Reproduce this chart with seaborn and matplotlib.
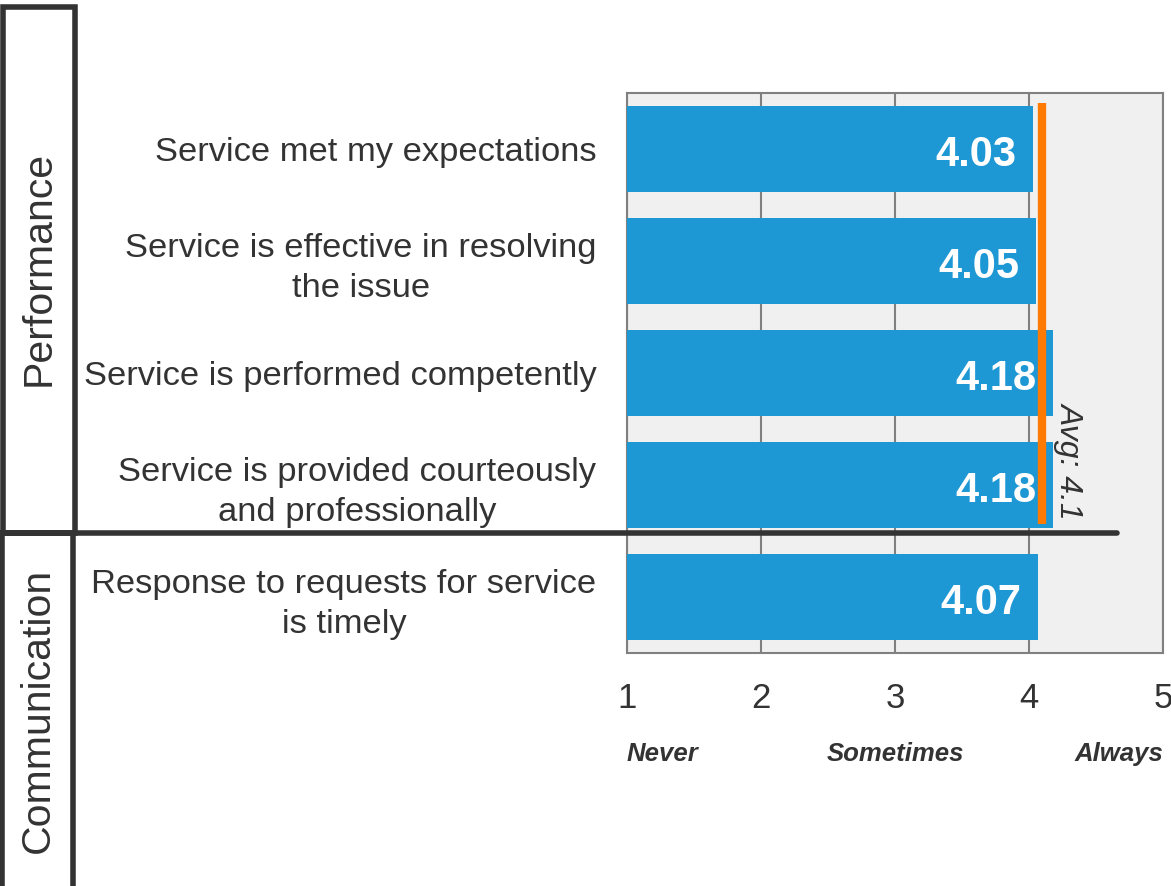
import matplotlib
matplotlib.use("Agg")
import matplotlib.pyplot as plt
from matplotlib.patches import Rectangle
from matplotlib.lines import Line2D
import seaborn as sns
import pandas as pd

# Survey items (top to bottom) and their mean scores
items = [
    "Service met my expectations",
    "Service is effective in resolving\nthe issue",
    "Service is performed competently",
    "Service is provided courteously\nand professionally",
    "Response to requests for service\nis timely",
]
scores = [4.03, 4.05, 4.18, 4.18, 4.07]
groups = ["Performance", "Performance", "Performance", "Performance", "Communication"]
score_labels = ["4.03", "4.05", "4.18", "4.18", "4.07"]

x_ticks = [1, 2, 3, 4, 5]
scale_names = ["Never", "Sometimes", "Always"]
scale_pos = [1, 3, 5]

avg_value = 4.1
avg_label = "Avg: 4.1"

BLUE = "#1d98d5"
ORANGE = "#ff7a00"
DARK = "#333333"
GRAY = "#808080"

sns.set_style("white")
plt.rcParams["font.family"] = ["Liberation Sans", "DejaVu Sans"]

W, H = 1171, 886
fig = plt.figure(figsize=(W / 100, H / 100), dpi=100)


def fx(px):
    return px / W


def fy(py):
    return 1 - py / H


ax = fig.add_axes([fx(627), fy(653), fx(1163) - fx(627), fy(93) - fy(653)])
ax.set_facecolor("#f0f0f0")

df = pd.DataFrame({"item": items, "score": scores, "group": groups})
sns.barplot(data=df, x="score", y="item", color=BLUE, width=0.76,
            saturation=1, linewidth=0, edgecolor=BLUE, ax=ax, zorder=3)

ax.set_xlim(1, 5)
ax.set_ylim(4.5, -0.5)
ax.set_xlabel("")
ax.set_ylabel("")

# x axis: numbers and scale wording
ax.set_xticks(x_ticks)
ax.set_xticklabels([str(t) for t in x_ticks], fontsize=25, color=DARK)
ax.tick_params(axis="x", length=9, width=1.5, color=GRAY, pad=12, direction="out")
ax.grid(axis="x", color=GRAY, linewidth=1.5, zorder=0)
ax.set_axisbelow(True)

for name, pos in zip(scale_names, scale_pos):
    ha = "left" if pos == x_ticks[0] else ("right" if pos == x_ticks[-1] else "center")
    ax.annotate(name, xy=(pos, 0), xycoords=("data", "axes fraction"),
                xytext=(0, -73), textcoords="offset points", ha=ha, va="center",
                fontsize=18.5, fontweight="bold", fontstyle="italic", color=DARK)

# y axis: labels centred on bars, tick marks between bars
ax.set_yticks(range(len(items)))
ax.set_yticklabels(items, fontsize=24.8, color=DARK, multialignment="center",
                   linespacing=1.35)
ax.tick_params(axis="y", which="major", length=0, pad=22)
ax.set_yticks([i - 0.5 for i in range(len(items) + 1)], minor=True)
ax.tick_params(axis="y", which="minor", length=7, width=1.5, color=GRAY, direction="out")

for side in ["left", "right", "top", "bottom"]:
    ax.spines[side].set_visible(True)
    ax.spines[side].set_color(GRAY)
    ax.spines[side].set_linewidth(1.5)

# score labels inside the bar ends
for i, (v, lab) in enumerate(zip(scores, score_labels)):
    ax.annotate(lab, xy=(v, i), xytext=(-12, -4), textcoords="offset points",
                ha="right", va="center", fontsize=30, fontweight="bold",
                color="white", zorder=5)

# average line for the performance items
perf_idx = [i for i, g in enumerate(groups) if g == "Performance"]
ax.plot([avg_value, avg_value], [perf_idx[0] - 0.41, perf_idx[-1] + 0.35],
        color=ORANGE, linewidth=6, solid_capstyle="butt", zorder=6)
ax.text(avg_value + 0.2, 2.78, avg_label, rotation=-90, ha="center", va="center",
        fontsize=23, fontstyle="italic", color=DARK, zorder=6)

# group boxes on the left and the divider between groups
lw = 4
fig.add_artist(Rectangle((fx(3), fy(533)), fx(75) - fx(3), fy(7) - fy(533),
                         transform=fig.transFigure, fill=False, edgecolor=DARK,
                         linewidth=lw, clip_on=False))
fig.add_artist(Rectangle((fx(2), fy(889)), fx(73) - fx(2), fy(533) - fy(889),
                         transform=fig.transFigure, fill=False, edgecolor=DARK,
                         linewidth=lw, clip_on=False))
fig.add_artist(Line2D([fx(0), fx(1117)], [fy(533), fy(533)], transform=fig.transFigure,
                      color=DARK, linewidth=lw, zorder=10))

fig.text(fx(39), fy(268), "Performance", rotation=90, ha="center", va="center",
         fontsize=29.5, color=DARK)
fig.text(fx(38), fy(710), "Communication", rotation=90, ha="center", va="center",
         fontsize=29.5, color=DARK)

fig.savefig("out.png", dpi=100)
